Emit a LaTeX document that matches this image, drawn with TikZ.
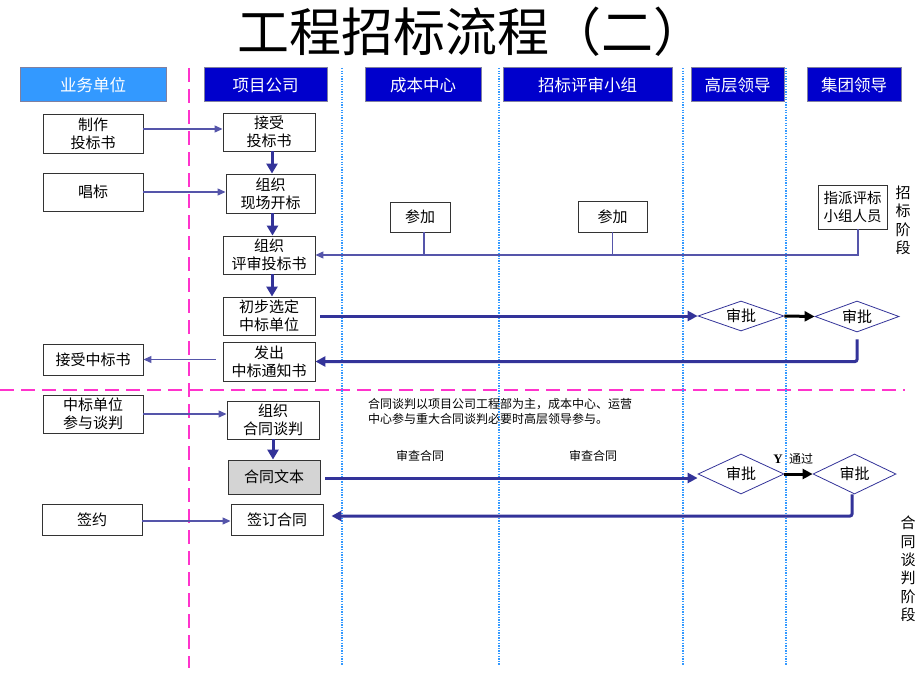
\documentclass[tikz,border=0pt]{standalone}
\usepackage{fontspec}
\setmainfont{Noto Sans CJK SC}
\newfontfamily\serf{Liberation Serif}
\usetikzlibrary{arrows.meta,shapes.geometric}
\definecolor{hdark}{HTML}{0000CC}
\definecolor{hlight}{HTML}{3399FF}
\definecolor{hline}{HTML}{8080A0}
\definecolor{flow}{HTML}{333399}
\definecolor{thinc}{HTML}{5555AA}
\definecolor{mag}{HTML}{FF33CC}
\definecolor{dotc}{HTML}{3399FF}
\begin{document}
\begin{tikzpicture}[x=1pt,y=-1pt,
 hdr/.style={draw=hline, line width=1pt, fill=hdark, text=white, font=\fontsize{16.5}{18}\selectfont, inner sep=0pt},
 box/.style={draw=black!80, line width=0.9pt, fill=white, align=center, font=\fontsize{15}{18}\selectfont, inner sep=0pt},
 diam/.style={diamond, draw=flow, line width=0.8pt, fill=white, font=\fontsize{15}{18}\selectfont, inner sep=0pt, aspect=2.8},
 thickarr/.style={draw=flow, line width=3pt, -{Triangle[length=10pt,width=10pt]}},
 vertarr/.style={draw=flow, line width=3pt, -{Triangle[length=10pt,width=11pt]}},
 blackarr/.style={draw=black, line width=3pt, -{Triangle[length=10pt,width=10pt]}},
 thinarr/.style={draw=thinc, line width=1.2pt, -{Triangle[length=8pt,width=7pt]}},
 thinline/.style={draw=thinc, line width=1.1pt},
 magline/.style={draw=mag, line width=2pt, dash pattern=on 14pt off 7pt},
 dotline/.style={draw=dotc, line width=1.1pt, dash pattern=on 1.3pt off 1.3pt},
 note/.style={font=\fontsize{12}{15}\selectfont, inner sep=0pt},
 vlabel/.style={font=\fontsize{15}{18.4}\selectfont, align=center, inner sep=0pt}
]
\fill[white] (0,0) rectangle (920,690);
\useasboundingbox (0,0) rectangle (920,690);

% title
\node[font=\fontsize{52}{56}\selectfont, inner sep=0pt] (title) at (471,32) {工程招标流程（二）};

% lane separators
\coordinate (m1) at (189,68); \coordinate (m2) at (189,668);
\draw[magline] (m1) -- (m2);
\coordinate (h1) at (0,390); \coordinate (h2) at (905,390);
\draw[magline] (h1) -- (h2);
\foreach \x in {342,499,683,786}{
  \draw[dotline] (\x,68) -- (\x,665);
}

% headers
\node[hdr, fill=hlight, minimum width=146pt, minimum height=34pt] (L1) at (93,85) {业务单位};
\node[hdr, minimum width=123pt, minimum height=34pt] (L2) at (265.5,85) {项目公司};
\node[hdr, minimum width=116pt, minimum height=34pt] (L3) at (423,85) {成本中心};
\node[hdr, minimum width=169pt, minimum height=34pt] (L4) at (587.5,85) {招标评审小组};
\node[hdr, minimum width=93pt, minimum height=34pt] (L5) at (737.5,85) {高层领导};
\node[hdr, minimum width=94pt, minimum height=34pt] (L6) at (854,85) {集团领导};

% left column
\node[box, minimum width=100pt, minimum height=39pt] (mk) at (93,133.5) {制作\\投标书};
\node[box, minimum width=100pt, minimum height=38pt] (cb) at (93,192) {唱标};
\node[box, minimum width=100pt, minimum height=31pt] (js) at (93,359.5) {接受中标书};
\node[box, minimum width=100pt, minimum height=38pt] (zbdw) at (93,414) {中标单位\\参与谈判};
\node[box, minimum width=100pt, minimum height=31pt] (qy) at (92,519.5) {签约};

% middle column
\node[box, minimum width=92pt, minimum height=38pt] (jstb) at (269,132) {接受\\投标书};
\node[box, minimum width=89pt, minimum height=39pt] (xckb) at (270.5,193.5) {组织\\现场开标};
\node[box, minimum width=92pt, minimum height=38pt] (pstb) at (269,255) {组织\\评审投标书};
\node[box, minimum width=92pt, minimum height=38pt] (cbxd) at (269,316) {初步选定\\中标单位};
\node[box, minimum width=92pt, minimum height=39pt] (fczb) at (269,361.5) {发出\\中标通知书};
\node[box, minimum width=92pt, minimum height=38pt] (zzht) at (273,420) {组织\\合同谈判};
\node[box, fill=black!17, minimum width=92pt, minimum height=34pt] (htwb) at (274,477) {合同文本};
\node[box, minimum width=92pt, minimum height=31pt] (qdht) at (277,519.5) {签订合同};

% participation boxes
\node[box, minimum width=60pt, minimum height=30pt] (cj1) at (420,217) {参加};
\node[box, minimum width=69pt, minimum height=31pt] (cj2) at (612.5,216.5) {参加};
\node[box, minimum width=69pt, minimum height=44pt, font=\fontsize{14.5}{18}\selectfont] (zp) at (852.5,207) {指派评标\\小组人员};

% diamonds
\node[diam, minimum width=86pt, minimum height=30pt] (d1) at (741,316) {审批};
\node[diam, minimum width=84pt, minimum height=31pt] (d2) at (857,316.5) {审批};
\node[diam, minimum width=86pt, minimum height=40pt] (d3) at (741,474) {审批};
\node[diam, minimum width=83pt, minimum height=40pt] (d4) at (854.5,474) {审批};

% vertical flow arrows
\draw[vertarr] ([xshift=3pt]jstb.south) -- ([xshift=3pt]jstb.south |- xckb.north);
\draw[vertarr] ([xshift=2pt]xckb.south) -- ([xshift=2pt]xckb.south |- pstb.north);
\draw[vertarr] ([xshift=3pt]pstb.south) -- ([xshift=3pt]pstb.south |- cbxd.north);
\draw[vertarr] (zzht.south) -- (zzht.south |- htwb.north);

% thin arrows from left column
\draw[thinarr] ([yshift=4.5pt]mk.east) -- ([yshift=4.5pt]mk.east -| jstb.west);
\draw[thinarr] (cb.east) -- (cb.east -| xckb.west);
\draw[thinarr, shorten <=7pt] (fczb.west |- js.east) -- (js.east);
\draw[thinarr] (zbdw.east) -- (zbdw.east -| zzht.west);
\draw[thinarr] ([yshift=-1.5pt]qy.east) -- ([yshift=-1.5pt]qy.east -| qdht.west);

% participation lines
\draw[thinarr] ([xshift=5.5pt]zp.south) |- (pstb.east);
\draw[thinline] ([xshift=4pt]cj1.south) -- ([xshift=4pt]cj1.south |- pstb.east);
\draw[thinline] (cj2.south) -- (cj2.south |- pstb.east);

% approval flows (bidding)
\draw[thickarr, shorten <=5pt] (cbxd.east) -- (d1.west);
\draw[blackarr] (d1.east) -- (d2.west);
\draw[thickarr, shorten <=7pt, rounded corners=2pt] (d2.south) |- (fczb.east);

% approval flows (contract)
\draw[thickarr, shorten <=5pt] ([yshift=-1pt]htwb.east) -- ([yshift=-1pt]htwb.east -| d3.west);
\draw[blackarr] (d3.east) -- (d4.west);
\draw[thickarr, shorten >=8pt, rounded corners=2pt] ([xshift=-2.5pt]d4.south) |- ([yshift=3.5pt]qdht.east);

% notes
\node[note, anchor=west, align=left] (nt) at (368,411.5) {合同谈判以项目公司工程部为主，成本中心、运营\\中心参与重大合同谈判必要时高层领导参与。};
\node[note] (sc1) at (420,456) {审查合同};
\node[note] (sc2) at (593,456) {审查合同};
\node[note, font=\serf\fontsize{13}{15}\selectfont\bfseries] (yy) at (778,459) {Y};
\node[note] (tg) at (801,459) {通过};

% stage labels
\node[vlabel] (st1) at (903,220.5) {招\\标\\阶\\段};
\node[vlabel] (st2) at (908,569) {合\\同\\谈\\判\\阶\\段};
\end{tikzpicture}
\end{document}
